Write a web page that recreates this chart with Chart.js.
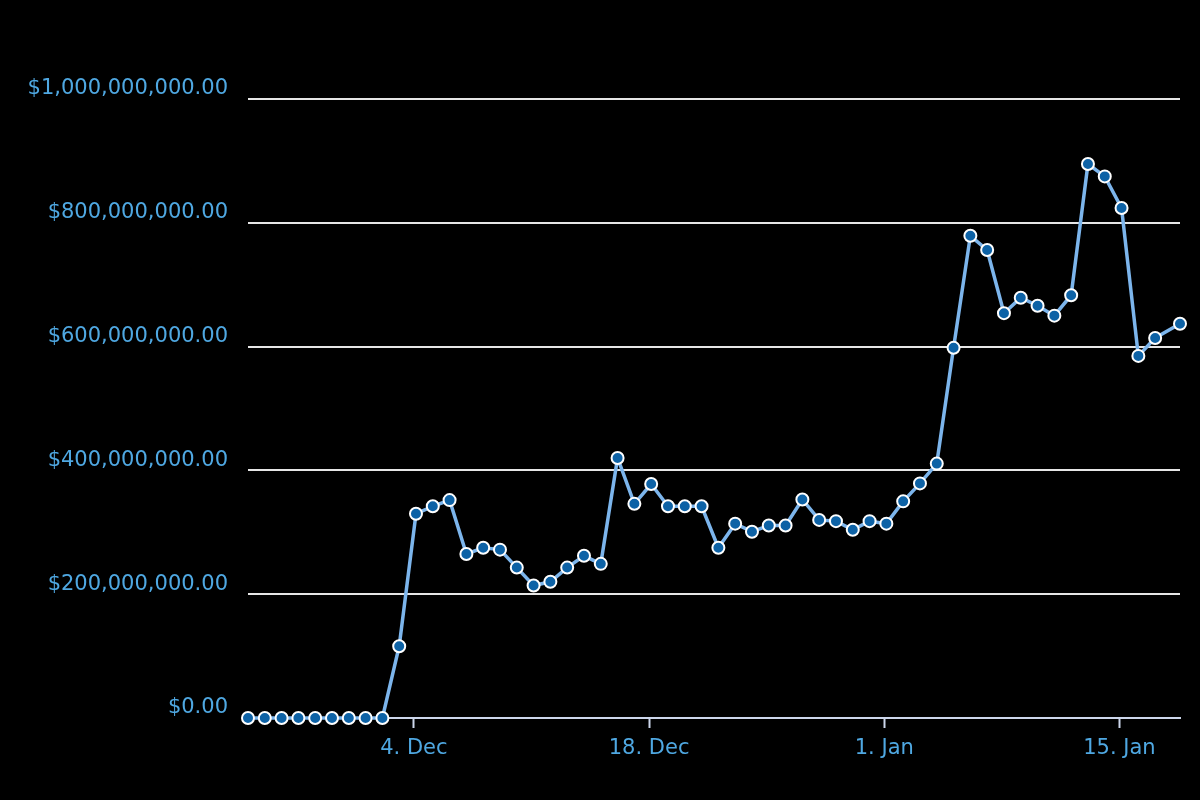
<!DOCTYPE html>
<html>
<head>
<meta charset="utf-8">
<title>Market cap</title>
<script src="https://cdn.jsdelivr.net/npm/chart.js@4.4.1/dist/chart.umd.min.js"></script>
<style>
  html, body { margin: 0; padding: 0; background: #000; }
  canvas { display: block; background: #000; }
</style>
</head>
<body>
<canvas id="capChart" width="1200" height="800"></canvas>
<script>
// sample dates (daily samples are taken at 03:00 UTC, the last one later in the day)
const dates = [
  '2017-11-24', '2017-11-25', '2017-11-26', '2017-11-27', '2017-11-28',
  '2017-11-29', '2017-11-30', '2017-12-01', '2017-12-02', '2017-12-03',
  '2017-12-04', '2017-12-05', '2017-12-06', '2017-12-07', '2017-12-08',
  '2017-12-09', '2017-12-10', '2017-12-11', '2017-12-12', '2017-12-13',
  '2017-12-14', '2017-12-15', '2017-12-16', '2017-12-17', '2017-12-18',
  '2017-12-19', '2017-12-20', '2017-12-21', '2017-12-22', '2017-12-23',
  '2017-12-24', '2017-12-25', '2017-12-26', '2017-12-27', '2017-12-28',
  '2017-12-29', '2017-12-30', '2017-12-31', '2018-01-01', '2018-01-02',
  '2018-01-03', '2018-01-04', '2018-01-05', '2018-01-06', '2018-01-07',
  '2018-01-08', '2018-01-09', '2018-01-10', '2018-01-11', '2018-01-12',
  '2018-01-13', '2018-01-14', '2018-01-15', '2018-01-16', '2018-01-17',
  '2018-01-18T14:30Z'
];

// value in millions of dollars
const valuesMillions = [
  0, 0, 0, 0, 0, 0, 0, 0, 0, 116,
  330, 342, 352, 265, 275, 272, 243, 214, 220, 243,
  262, 249, 420, 346, 378, 342, 342, 342, 275, 314,
  301, 311, 311, 353, 320, 318, 304, 318, 314, 350,
  379, 411, 598, 779, 756, 654, 679, 666, 650, 683,
  895, 875, 824, 585, 614, 637
];

const tickDates = ['2017-12-04', '2017-12-18', '2018-01-01', '2018-01-15'];
const tickLabels = ['4. Dec', '18. Dec', '1. Jan', '15. Jan'];

const DAY = 86400000;
const stamp = d => d.length === 10 ? Date.parse(d + 'T03:00Z') : Date.parse(d);
const start = stamp(dates[0]);
const toDay = t => (t - start) / DAY;

const points = dates.map((d, i) => ({ x: toDay(stamp(d)), y: valuesMillions[i] * 1e6 }));
const tickDays = tickDates.map(d => toDay(Date.parse(d + 'T00:00Z')));

const labelColor = '#4fa8e2';
const axisFont = { family: '"DejaVu Sans", sans-serif', size: 21 };

const config = {
  type: 'line',
  data: {
    datasets: [{
      data: points,
      borderColor: '#7cb5ec',
      borderWidth: 3.5,
      pointRadius: 6,
      pointBorderWidth: 2,
      pointBackgroundColor: '#0d62a6',
      pointBorderColor: '#ffffff',
      tension: 0,
      clip: false
    }]
  },
  options: {
    responsive: false,
    animation: false,
    layout: { padding: { top: 99, right: 20, left: 0, bottom: 0 } },
    plugins: {
      legend: { display: false },
      tooltip: { enabled: false }
    },
    scales: {
      x: {
        type: 'linear',
        min: 0,
        max: points[points.length - 1].x,
        afterBuildTicks: scale => {
          scale.ticks = tickDays.map(v => ({ value: v }));
        },
        afterFit: scale => { scale.height = 82; },
        grid: {
          drawOnChartArea: false,
          drawTicks: true,
          tickLength: 10,
          color: '#ccd6eb',
          tickColor: '#ccd6eb',
          tickWidth: 2
        },
        border: { color: '#ccd6eb', width: 2 },
        ticks: {
          autoSkip: false,
          maxRotation: 0,
          padding: 8,
          color: labelColor,
          font: axisFont,
          callback: (value, index) => tickLabels[index]
        }
      },
      y: {
        min: 0,
        max: 1e9,
        afterFit: scale => { scale.width = 248; },
        grid: { color: '#e6e6e6', lineWidth: 2, drawTicks: false },
        border: { display: false },
        ticks: {
          stepSize: 2e8,
          padding: 20,
          labelOffset: -10,
          color: labelColor,
          font: axisFont,
          callback: v => '$' + Number(v).toLocaleString('en-US', {
            minimumFractionDigits: 2, maximumFractionDigits: 2
          })
        }
      }
    }
  }
};

const capChart = new Chart(document.getElementById('capChart'), config);
</script>
</body>
</html>
